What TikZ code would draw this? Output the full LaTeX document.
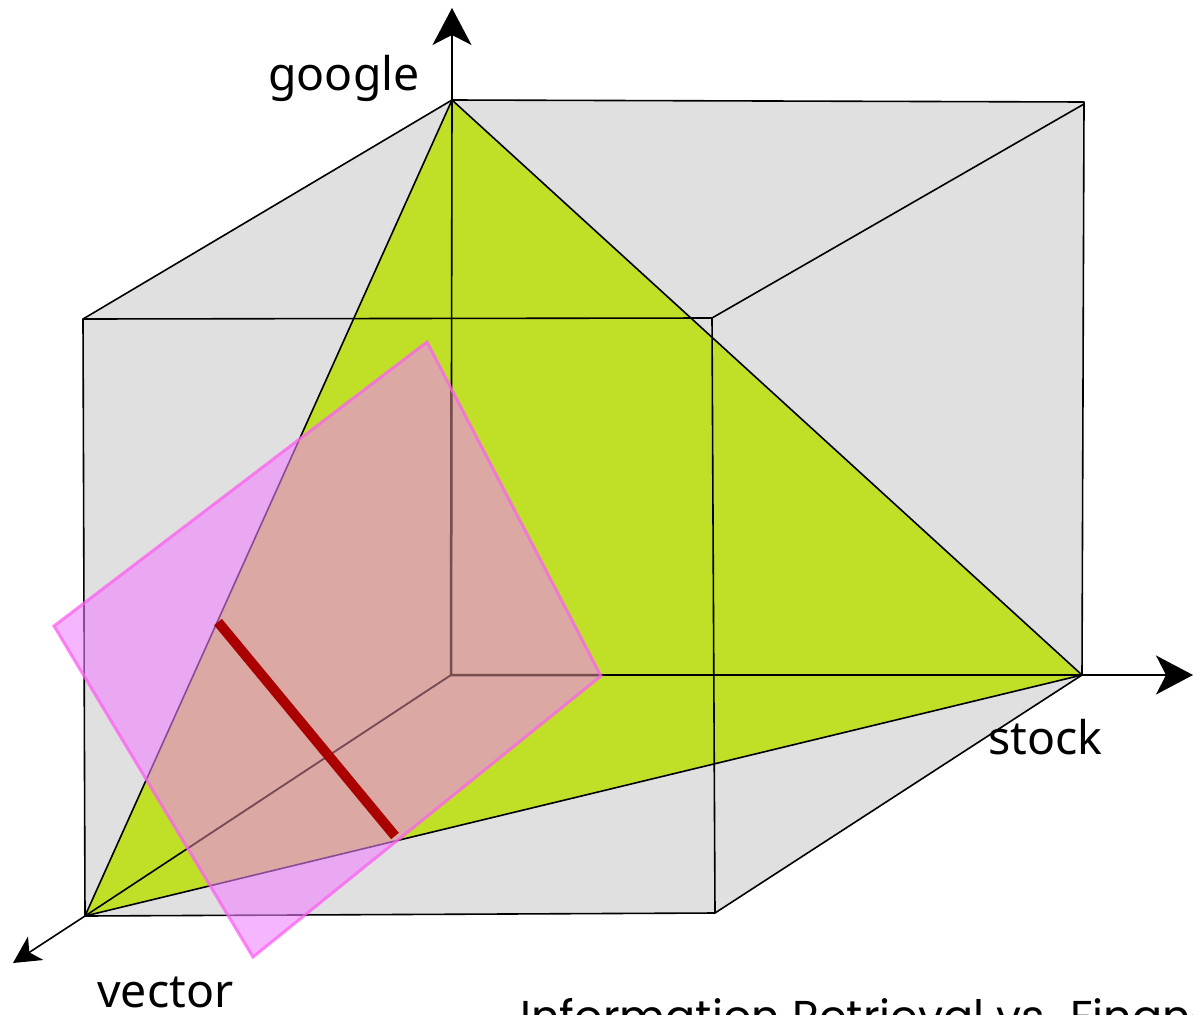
\documentclass[tikz,border=0pt]{standalone}
\usepackage{fontspec}
\usetikzlibrary{arrows.meta}
\setmainfont{Noto Sans}
\newfontfamily\titlefont{Poppins}
\definecolor{boxgray}{HTML}{E0E0E0}
\definecolor{planegreen}{HTML}{C0E028}
\definecolor{planepink}{HTML}{F080FF}
\definecolor{planeborder}{HTML}{FC62F0}
\definecolor{innerbrown}{HTML}{764E4E}
\definecolor{linered}{HTML}{AA0000}
\tikzset{
  x=0.02cm, y=-0.02cm,
  edge/.style={draw=black, line width=1.6*0.02cm, line join=round},
  axisbig/.style={edge, -{Stealth[length=0.74cm, width=0.78cm, inset=0.2cm]}},
  axissmall/.style={edge, -{Stealth[length=0.54cm, width=0.56cm, inset=0.15cm]}},
  axislabel/.style={font=\fontsize{26.4}{30}\selectfont, anchor=base west, inner sep=0pt},
  titlelabel/.style={font=\titlefont\fontsize{25.4}{30}\selectfont, anchor=base west, inner sep=0pt},
}
\begin{document}
\begin{tikzpicture}
    \useasboundingbox (0,0) rectangle (1193,1014);
    \clip (0,0) rectangle (1193,1014);
    % cube corners
    \coordinate (origin) at (451,675);
    \coordinate (top) at (452,100);
    \coordinate (topright) at (1084,102);
    \coordinate (innerright) at (1084,104);
    \coordinate (right) at (1082,675);
    \coordinate (front) at (85,916);
    \coordinate (fronttop) at (83,319);
    \coordinate (midtop) at (712,318);
    \coordinate (midbase) at (715,913);
    % axis ends
    \coordinate (topend) at (452,8);
    \coordinate (rightend) at (1193,675);
    \coordinate (frontend) at (13,963);
    % tilted plane
    \coordinate (pinka) at (427,342);
    \coordinate (pinkb) at (601,676);
    \coordinate (pinkc) at (253,957);
    \coordinate (pinkd) at (54,626);
    \coordinate (reda) at (218,622);
    \coordinate (redb) at (395,836);
    \fill[boxgray] (fronttop) -- (top) -- (topright) -- (right) -- (midbase) -- (front) -- cycle;
    \fill[planegreen] (top) -- (right) -- (front) -- cycle;
    \draw[edge] (top) -- (origin);
    \draw[edge, line width=0.05cm] (origin) -- (right);
    \draw[edge] (origin) -- (front);
    \draw[edge] (top) -- (right) -- (front) -- cycle;
    \draw[edge] (fronttop) -- (midtop) -- (midbase) -- (front) -- cycle;
    \draw[edge] (fronttop) -- (top) -- (topright) -- (right) -- (midbase);
    \draw[edge] (midtop) -- (innerright);
    \draw[axisbig] (top) -- (topend);
    \draw[axisbig] (right) -- (rightend);
    \draw[axissmall] (front) -- (frontend);
    \fill[planepink, fill opacity=0.58] (pinka) -- (pinkb) -- (pinkc) -- (pinkd) -- cycle;
    \begin{scope}
      \clip (pinka) -- (pinkb) -- (pinkc) -- (pinkd) -- cycle;
      \draw[edge, draw=innerbrown, line width=0.05cm] (top) -- (origin) -- (right);
      \draw[edge, draw=innerbrown] (origin) -- (front);
    \end{scope}
    \draw[planeborder, line width=0.06cm, draw opacity=0.75, line join=miter] (pinka) -- (pinkb) -- (pinkc) -- (pinkd) -- cycle;
    \draw[linered, line width=0.2cm] (reda) -- (redb);
    \node[axislabel] (google) at (268,90) {google};
    \node[axislabel] (stock) at (988,754) {stock};
    \node[axislabel] (vector) at (97,1007) {vector};
    \node[titlelabel] (title) at (520,1032) {Information Retrieval vs. Finance};
\end{tikzpicture}
\end{document}
